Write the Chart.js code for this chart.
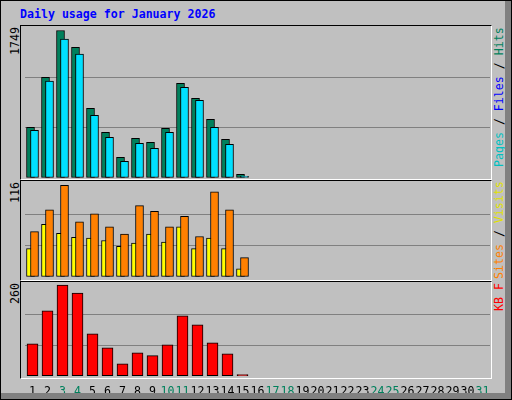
<!DOCTYPE html>
<html>
<head>
<meta charset="utf-8">
<script src="https://cdn.jsdelivr.net/npm/chart.js@4/dist/chart.umd.min.js"></script>
<style>
  body { margin: 0; }
  #frame { position: relative; width: 510px; height: 398px; background: #c0c0c0; border: 1px solid #000; overflow: hidden; }
  #frame:after { content: ''; position: absolute; right: 0; top: 0; width: 6px; height: 100%; background: #808080; }
  #shadowB { position: absolute; left: 0; bottom: 0; width: 100%; height: 6px; background: #808080; }
  .title { position: absolute; left: 19px; top: 6px; font: bold 11.6px "DejaVu Sans Mono", monospace; color: #0000ff; }
  .panel { position: absolute; left: 19px; width: 470px; border-top: 1px solid #000; border-left: 1px solid #000; border-right: 1px solid #fff; border-bottom: 1px solid #fff; }
  canvas { position: absolute; }
  .vlab { position: absolute; writing-mode: vertical-rl; transform: rotate(180deg); text-align: end; font: 11.6px "DejaVu Sans Mono", monospace; white-space: pre; }
</style>
</head>
<body>
<div id="frame">
  <div class="title">Daily usage for January 2026</div>
  <div class="panel" style="top:24px;height:153px"></div>
  <div class="panel" style="top:179px;height:99px"></div>
  <div class="panel" style="top:280px;height:96px"></div>

  <div class="vlab" style="left:7px;top:26px;height:60px;color:#000">1749</div>
  <div class="vlab" style="left:7px;top:181px;height:40px;color:#000">116</div>
  <div class="vlab" style="left:7px;top:282px;height:40px;color:#000">260</div>

  <div class="vlab" style="left:491px;top:26px;height:150px"><span style="color:#00c0c0">Pages</span><span style="color:#000"> / </span><span style="color:#0000ff">Files</span><span style="color:#000"> / </span><span style="color:#00805c">Hits</span></div>
  <div class="vlab" style="left:491px;top:181px;height:97px"><span style="color:#ff8000">Sites</span><span style="color:#000"> / </span><span style="color:#e0e000">Visits</span></div>
  <div class="vlab" style="left:491px;top:282px;height:94px;color:#ff0000">KB F</div>

  <canvas id="c1" style="left:20px;top:25px" width="471" height="153"></canvas>
  <canvas id="c2" style="left:20px;top:180px" width="471" height="99"></canvas>
  <canvas id="c3" style="left:20px;top:281px" width="471" height="118"></canvas>
  <div id="shadowB"></div>
</div>
<script>
const days = Array.from({ length: 31 }, (_, i) => String(i + 1));
const weekendDays = [3, 4, 10, 11, 17, 18, 24, 25, 31];

const hits  = [589, 1171, 1714, 1520, 811, 531, 240, 461, 415, 578, 1101, 927, 683, 450, 43];
const files = [555, 1125, 1613, 1439, 729, 473, 194, 403, 345, 531, 1055, 904, 589, 392, 19];
const visits = [56, 83, 113, 68, 78, 62, 53, 88, 81, 62, 75, 50, 105, 83, 24];
const sites  = [35, 65, 54, 49, 48, 45, 38, 42, 53, 43, 62, 35, 48, 35, 10];
const kbytes = [90, 182, 254, 232, 118, 79, 34, 65, 57, 87, 168, 143, 93, 62, 4];

const maxTop = 1749, maxMid = 116, maxBot = 260;

// shift overlapping bars sideways by a few pixels
const shiftPlugin = {
  id: 'shift',
  afterDatasetsUpdate(chart) {
    chart.data.datasets.forEach((ds, i) => {
      if (!ds.shift) return;
      chart.getDatasetMeta(i).data.forEach(el => { el.x += ds.shift; });
    });
  }
};

function makeChart(id, datasets, max, pad, showX) {
  return new Chart(document.getElementById(id), {
    type: 'bar',
    data: { labels: days, datasets },
    options: {
      responsive: false,
      animation: false,
      layout: { padding: pad },
      plugins: { legend: { display: false }, tooltip: { enabled: false } },
      scales: {
        x: {
          display: showX,
          grid: { display: false },
          border: { display: false },
          ticks: {
            autoSkip: false,
            maxRotation: 0,
            padding: 1,
            font: { family: 'DejaVu Sans Mono', size: 11.6 },
            color: (ctx) => weekendDays.includes(ctx.index + 1) ? '#00805c' : '#000'
          }
        },
        y: {
          display: true,
          min: 0, max: max,
          afterBuildTicks: (axis) => { axis.ticks = [0, 1, 2, 3].map(k => ({ value: max * k / 3 })); },
          ticks: { display: false },
          grid: {
            color: (ctx) => (ctx.index === 1 || ctx.index === 2) ? '#808080' : 'rgba(0,0,0,0)',
            drawTicks: false
          },
          border: { display: false }
        }
      }
    },
    plugins: [shiftPlugin]
  });
}

const bar = (data, color, w, shift, order) => ({
  data, backgroundColor: color, borderColor: '#000', borderWidth: 1,
  barThickness: w, grouped: false, shift, order, borderSkipped: false
});

makeChart('c1', [
  bar(files, '#00e0ff', 8, 2, 0),
  bar(hits, '#00805c', 8, -2, 1)
], maxTop, { left: 4, right: 2, top: 1.5, bottom: 1 }, false);

makeChart('c2', [
  bar(visits, '#ff8000', 8, 2, 0),
  bar(sites, '#ffff00', 8, -2, 1)
], maxMid, { left: 4, right: 2, top: 2, bottom: 3 }, false);

makeChart('c3', [
  bar(kbytes, '#ff0000', 11, 0, 0)
], maxBot, { left: 4, right: 2, top: 1, bottom: 0 }, true);
</script>
</body>
</html>
